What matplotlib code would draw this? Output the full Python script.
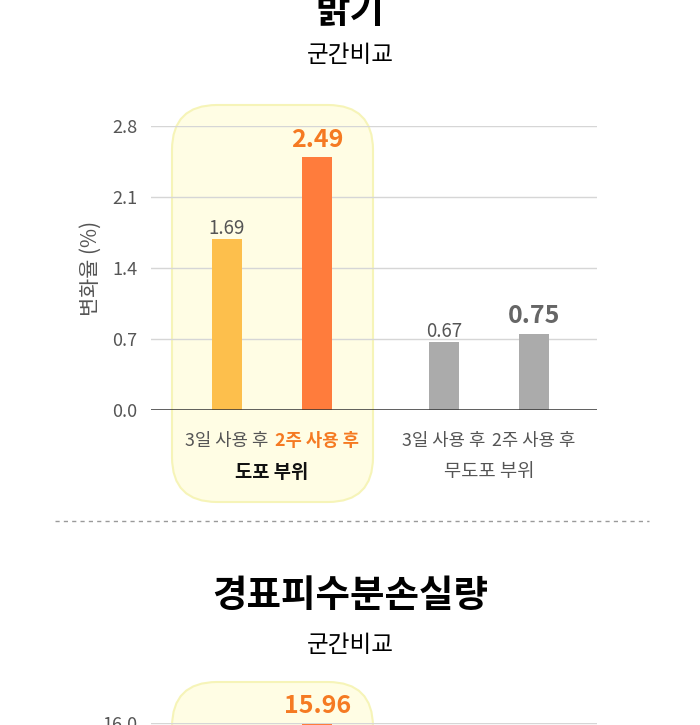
import numpy as np
import matplotlib
matplotlib.use("Agg")
import matplotlib.pyplot as plt
from matplotlib.patches import FancyBboxPatch
from matplotlib.lines import Line2D

plt.rcParams['font.family'] = ['Noto Sans CJK KR', 'DejaVu Sans']

# --- data -------------------------------------------------------------
top_title = "밝기"
bottom_title = "경표피수분손실량"
subtitle = "군간비교"
y_label = "변화율 (%)"

groups = ["도포 부위", "무도포 부위"]
periods = ["3일 사용 후", "2주 사용 후"]
brightness = [[1.69, 2.49], [0.67, 0.75]]
brightness_ticks = [0.0, 0.7, 1.4, 2.1, 2.8]

# second chart is cut off by the screenshot; only the top value shows
skin_loss_highlight = 15.96
skin_loss_ticks = [16.0]

# --- style ------------------------------------------------------------
W, H = 700, 725
ORANGE = "#f57a22"
BAR_COLORS = [["#fdbf4c", "#ff7c3c"], ["#ababab", "#ababab"]]
GRAY_TXT = "#555555"
GROUP_STEP = 2.41         # distance between group starts, in bar slots
BAR_W = 0.333

fig = plt.figure(figsize=(W / 100, H / 100), dpi=100)


def fx(px):
    return px / W


def fy(py):
    return 1 - py / H


def highlight_box(x0, x1, y_top, y_bot):
    # rounded yellow panel behind the treated group, in inches
    box = FancyBboxPatch((x0 / 100, (H - y_bot) / 100), (x1 - x0) / 100, (y_bot - y_top) / 100,
                         boxstyle="round,pad=0,rounding_size=0.45",
                         transform=fig.dpi_scale_trans, facecolor="#fffde4",
                         edgecolor="#f6f4b8", linewidth=1.5, zorder=-5)
    fig.patches.append(box)


def setup_axes(ax, ticks):
    ax.set_facecolor("none")
    for s in ax.spines.values():
        s.set_visible(False)
    ax.set_yticks(ticks)
    ax.set_yticklabels([f"{t:.1f}" for t in ticks], color=GRAY_TXT, fontsize=13)
    ax.tick_params(axis="y", length=0, pad=10)
    ax.grid(axis="y", color="#d6d6d6", linewidth=1)
    ax.set_axisbelow(True)
    ax.set_xlim(-0.845, 4.11)


positions = [g * GROUP_STEP + i for g in range(len(groups)) for i in range(len(periods))]

# --- titles -----------------------------------------------------------
fig.text(0.5, fy(11), top_title, ha="center", va="center", fontsize=27, fontweight="bold")
fig.text(0.5, fy(56), subtitle, ha="center", va="center", fontsize=17)

highlight_box(172, 373, 105, 502)

# --- chart 1 ----------------------------------------------------------
ax = fig.add_axes([fx(151), fy(410), fx(597 - 151), (410 - 126) / H])
setup_axes(ax, brightness_ticks)
ax.set_ylim(0, 2.8)

k = 0
for g, vals in enumerate(brightness):
    for i, v in enumerate(vals):
        x = positions[k]
        ax.bar(x, v, width=BAR_W, color=BAR_COLORS[g][i], zorder=3)
        if i == 1:
            col = ORANGE if g == 0 else "#666666"
            ax.annotate(f"{v:.2f}", (x, v), xytext=(0, 4), textcoords="offset points",
                        ha="center", va="bottom", fontsize=18, fontweight="bold", color=col)
        else:
            ax.annotate(f"{v:.2f}", (x, v), xytext=(0, 0), textcoords="offset points",
                        ha="center", va="bottom", fontsize=13.5, color=GRAY_TXT)
        k += 1

ax.axhline(0, color="#333333", linewidth=1.8, zorder=4)
ax.set_xticks(positions)
ax.set_xticklabels(periods * len(groups), fontsize=12.8)
ax.tick_params(axis="x", length=0, pad=16)
for j, lab in enumerate(ax.get_xticklabels()):
    if j == 1:
        lab.set_color(ORANGE)
        lab.set_fontweight("bold")
    else:
        lab.set_color(GRAY_TXT)

for g, name in enumerate(groups):
    cx = (positions[2 * g] + positions[2 * g + 1]) / 2
    ax.text(cx, -62 / 284, name, transform=ax.get_xaxis_transform(), ha="center", va="center",
            fontsize=13.5, fontweight="bold" if g == 0 else "normal",
            color="#111111" if g == 0 else GRAY_TXT)

ax.set_ylabel(y_label, fontsize=15, color=GRAY_TXT, labelpad=7)

# --- divider ----------------------------------------------------------
fig.add_artist(Line2D([fx(55), fx(649)], [fy(521), fy(521)], color="#9a9a9a",
                      linewidth=1, linestyle=(0, (3, 3)), transform=fig.transFigure))

# --- chart 2 (cut off) -------------------------------------------------
fig.text(0.5, fy(595), bottom_title, ha="center", va="center", fontsize=27, fontweight="bold")
fig.text(0.5, fy(645), subtitle, ha="center", va="center", fontsize=17)

highlight_box(172, 373, 682, 1080)

ax2 = fig.add_axes([fx(151), fy(1007), fx(597 - 151), (1007 - 723) / H])
setup_axes(ax2, skin_loss_ticks)
ax2.set_ylim(0, 16.0)
ax2.bar(positions[1], skin_loss_highlight, width=BAR_W, color=BAR_COLORS[0][1], zorder=3)
ax2.annotate(f"{skin_loss_highlight:.2f}", (positions[1], skin_loss_highlight), xytext=(0, 4),
             textcoords="offset points", ha="center", va="bottom", fontsize=18,
             fontweight="bold", color=ORANGE)
ax2.set_xticks([])

fig.savefig("out.png", dpi=100)
